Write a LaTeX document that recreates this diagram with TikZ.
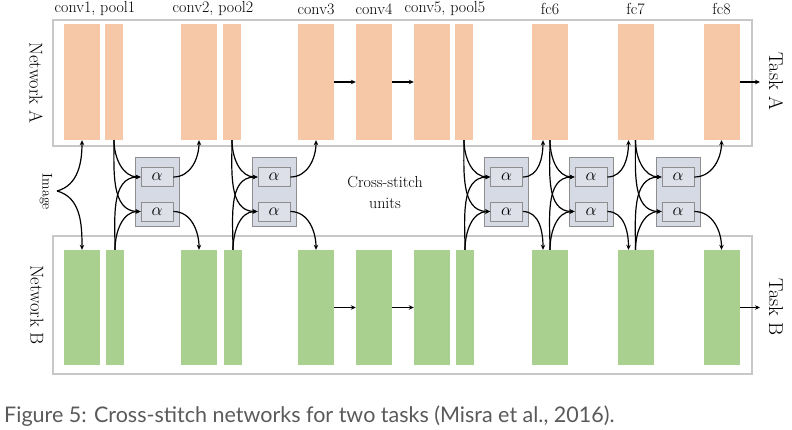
\documentclass[tikz,border=0pt]{standalone}
\usepackage{fontspec}
\newfontfamily\capfont{Lato}
\usetikzlibrary{arrows.meta}
\definecolor{orblk}{HTML}{F6C8A8}
\definecolor{grblk}{HTML}{A9D08E}
\definecolor{unitfill}{HTML}{D6DAE4}
\definecolor{unitdraw}{HTML}{8E8E8E}
\definecolor{alphfill}{HTML}{DDE0E8}
\definecolor{framecol}{HTML}{C8C8C8}
\definecolor{capcol}{HTML}{5A5A5A}
\tikzset{
  oblk/.style={fill=orblk, draw=none, minimum height=116pt, inner sep=0pt},
  gblk/.style={fill=grblk, draw=none, minimum height=115pt, inner sep=0pt},
  wide/.style={minimum width=36pt},
  narrow/.style={minimum width=18pt},
  framebox/.style={draw=framecol, line width=1.3pt, minimum width=699pt, inner sep=0pt},
  unitbox/.style={fill=unitfill, draw=unitdraw, line width=0.8pt, minimum width=44pt, minimum height=69pt, inner sep=0pt},
  alphbox/.style={fill=alphfill, draw=unitdraw, line width=0.8pt, minimum width=32pt, minimum height=19pt, inner sep=0pt, font=\fontsize{17}{19}\selectfont},
  conn/.style={line width=1.2pt, -{Stealth[length=5pt,width=4.5pt]}},
  lbl/.style={font=\fontsize{16}{18}\selectfont, inner sep=0pt},
  sidelbl/.style={font=\fontsize{18.5}{20}\selectfont, inner sep=0pt, rotate=-90},
}
\begin{document}
\begin{tikzpicture}[x=1pt,y=-1pt]
\useasboundingbox[fill=white] (0,0) rectangle (792,430);
% frames
\node[framebox, minimum height=126pt] (fa) at (402.5,83) {};
\node[framebox, minimum height=138pt] (fb) at (402.5,305) {};
% network A blocks
\node[oblk,wide]   (a1)  at (82,82) {};
\node[oblk,narrow] (a1p) at (114,82) {};
\node[oblk,wide]   (a2)  at (199,82) {};
\node[oblk,narrow] (a2p) at (232,82) {};
\node[oblk,wide]   (a3)  at (316,82) {};
\node[oblk,wide]   (a4)  at (374,82) {};
\node[oblk,wide]   (a5)  at (432,82) {};
\node[oblk,narrow] (a5p) at (464,82) {};
\node[oblk,wide]   (a6)  at (550,82) {};
\node[oblk,wide]   (a7)  at (635.5,82) {};
\node[oblk,wide]   (a8)  at (721.5,82) {};
% network B blocks
\node[gblk,wide]   (b1)  at (82,307.5) {};
\node[gblk,narrow] (b1p) at (115,307.5) {};
\node[gblk,wide]   (b2)  at (199,307.5) {};
\node[gblk,narrow] (b2p) at (233,307.5) {};
\node[gblk,wide]   (b3)  at (316,307.5) {};
\node[gblk,wide]   (b4)  at (374,307.5) {};
\node[gblk,wide]   (b5)  at (432,307.5) {};
\node[gblk,narrow] (b5p) at (465,307.5) {};
\node[gblk,wide]   (b6)  at (550,307.5) {};
\node[gblk,wide]   (b7)  at (635.5,307.5) {};
\node[gblk,wide]   (b8)  at (721.5,307.5) {};
% labels
\node[lbl] (l1) at (95,9) {conv1, pool1};
\node[lbl] (l2) at (213,9) {conv2, pool2};
\node[lbl] (l3) at (316,9) {conv3};
\node[lbl] (l4) at (374,9) {conv4};
\node[lbl] (l5) at (445,9) {conv5, pool5};
\node[lbl] (l6) at (550,9) {fc6};
\node[lbl] (l7) at (635.5,9) {fc7};
\node[lbl] (l8) at (721.5,9) {fc8};
\node[sidelbl] (na) at (36,83) {Network A};
\node[sidelbl] (nb) at (37,305) {Network B};
\node[sidelbl, font=\fontsize{20}{22}\selectfont] (ta) at (776,81) {Task A};
\node[sidelbl, font=\fontsize{20}{22}\selectfont] (tb) at (776,307) {Task B};
\node[font=\fontsize{14}{16}\selectfont, inner sep=0pt, rotate=-90] (img) at (46,192) {Image};
\coordinate (ip) at (57,191);
\node[lbl, align=center, font=\fontsize{16}{21}\selectfont] (cs) at (385,192) {Cross-stitch\\units};
% task outputs
\coordinate (tao) at (760,82);
\coordinate (tbo) at (760,307.5);
% cross-stitch units
\foreach \n/\x in {1/157,2/274,3/506.5,4/591,5/678}{
  \node[unitbox] (u\n) at (\x,191.5) {};
  \node[alphbox] (u\n a) at (\x,177) {$\alpha$};
  \node[alphbox] (u\n b) at (\x,211.5) {$\alpha$};
}
% straight arrows
\draw[conn] (a3.east) -- (a4.west);
\draw[conn] (a4.east) -- (a5.west);
\draw[conn] (b3.east) -- (b4.west);
\draw[conn] (b4.east) -- (b5.west);
\draw[conn] (a8.east) -- (tao);
\draw[conn] (b8.east) -- (tbo);
% image
\draw[conn] (ip) to[out=15,in=-90] (a1.south);
\draw[conn] (ip) to[out=-15,in=90] (b1.north);
% unit inputs
\foreach \u/\s/\t in {1/a1p/b1p,2/a2p/b2p,3/a5p/b5p,4/a6/b6,5/a7/b7}{
  \draw[conn] (\s.south) to[out=-90,in=180] (u\u a.west);
  \draw[conn] (\s.south) to[out=-90,in=180] (u\u b.west);
  \draw[conn] (\t.north) to[out=90,in=180] (u\u a.west);
  \draw[conn] (\t.north) to[out=90,in=180] (u\u b.west);
}
% unit outputs
\draw[conn] (u1a.east) to[out=0,in=-90] (a2.south);
\draw[conn] (u1b.east) to[out=0,in=90] (b2.north);
\draw[conn] (u2a.east) to[out=0,in=-90] (a3.south);
\draw[conn] (u2b.east) to[out=0,in=90] (b3.north);
\draw[conn] (u3a.east) to[out=0,in=-90] ([xshift=-7pt]a6.south);
\draw[conn] (u3b.east) to[out=0,in=90] ([xshift=-7pt]b6.north);
\draw[conn] (u4a.east) to[out=0,in=-90] ([xshift=-7pt]a7.south);
\draw[conn] (u4b.east) to[out=0,in=90] ([xshift=-7pt]b7.north);
\draw[conn] (u5a.east) to[out=0,in=-90] (a8.south);
\draw[conn] (u5b.east) to[out=0,in=90] (b8.north);
% caption
\node[anchor=base west, inner sep=0pt, text=capcol, font=\capfont\fontsize{21.5}{24}\selectfont] (cap) at (4,422) {Figure 5: Cross-stitch networks for two tasks (Misra et al., 2016).};
\end{tikzpicture}
\end{document}
